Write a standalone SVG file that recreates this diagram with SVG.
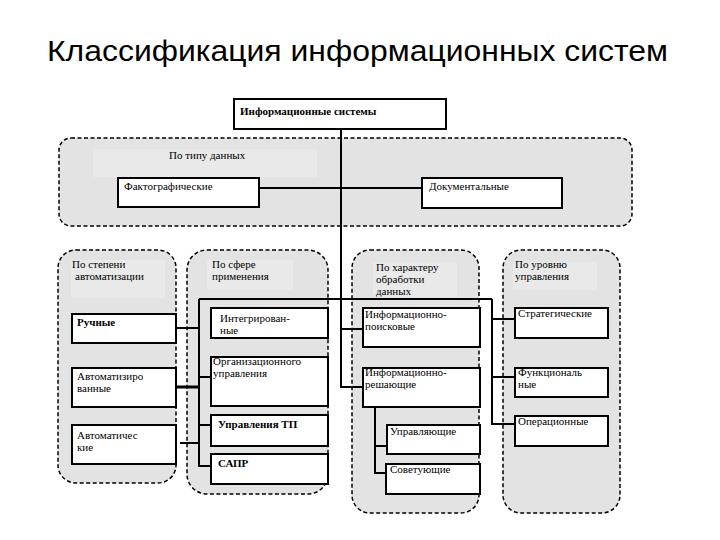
<svg xmlns="http://www.w3.org/2000/svg" width="720" height="540" viewBox="0 0 720 540">
<style>
.grp{fill:#e3e3e3;stroke:#000;stroke-width:1.5;stroke-dasharray:4 2.5}
.band{fill:#e9e9e9;stroke:none}
.box{fill:#fff;stroke:#000;stroke-width:2}
.t{font-family:'Liberation Serif','Times New Roman','DejaVu Serif',serif;font-size:11px;fill:#000}
.b{font-weight:bold}
.c{fill:none;stroke:#000;stroke-width:2}
.c3{fill:none;stroke:#000;stroke-width:3}
</style>
<rect width="720" height="540" fill="#fff"/>
<text x="47" y="61" font-family="'Liberation Sans',Arial,sans-serif" font-size="30" textLength="621" lengthAdjust="spacingAndGlyphs" fill="#000">Классификация информационных систем</text>

<g id="grp-type"><rect class="grp" x="59" y="138" width="573" height="88" rx="12"/><rect class="band" x="93" y="149" width="224" height="28"/><text class="t" x="169" y="159">По типу данных</text></g>
<g id="grp-auto"><rect class="grp" x="58" y="250" width="118" height="233" rx="18"/><rect class="band" x="71" y="260" width="94" height="38"/><text class="t" x="72" y="268">По степени</text><text class="t" x="75" y="280">автоматизации</text></g>
<g id="grp-sphere"><rect class="grp" x="187" y="250" width="141" height="244" rx="20"/><rect class="band" x="207" y="260" width="86" height="30"/><text class="t" x="212" y="268">По сфере</text><text class="t" x="212" y="280">применения</text></g>
<g id="grp-proc"><rect class="grp" x="352" y="250" width="127" height="263" rx="18"/><rect class="band" x="373" y="262" width="84" height="35"/><text class="t" x="376" y="271">По характеру</text><text class="t" x="376" y="283">обработки</text><text class="t" x="376" y="295">данных</text></g>
<g id="grp-level"><rect class="grp" x="503" y="250" width="117" height="263" rx="18"/><rect class="band" x="513" y="262" width="84" height="28"/><text class="t" x="515" y="268">По уровню</text><text class="t" x="515" y="280">управления</text></g>

<g id="connectors">
<path class="c" d="M341 129V387H363"/>
<path class="c" d="M259 188H422"/>
<path class="c" d="M199 299H492"/>
<path class="c" d="M199 299V466H211"/>
<path class="c" d="M199 377H211M199 425H211"/>
<path class="c" d="M176 328H199M180 443H199"/>
<path class="c3" d="M176 387H199"/>
<path class="c" d="M341 329H363"/>
<path class="c" d="M375 407V473H386M375 446H387"/>
<path class="c" d="M492 299V424H515M492 319H515M492 377H515"/>
</g>

<g id="n-is"><rect class="box" x="234" y="99" width="212" height="30"/><text class="t b" x="240" y="115">Информационные системы</text></g>
<g id="n-fact"><rect class="box" x="118" y="178" width="141" height="29"/><text class="t" x="124" y="190">Фактографические</text></g>
<g id="n-doc"><rect class="box" x="422" y="178" width="140" height="30"/><text class="t" x="429" y="190">Документальные</text></g>
<g id="n-manual"><rect class="box" x="72" y="314" width="104" height="29"/><text class="t b" x="77" y="326">Ручные</text></g>
<g id="n-automated"><rect class="box" x="72" y="368" width="104" height="39"/><text class="t" x="77" y="380">Автоматизиро</text><text class="t" x="77" y="392">ванные</text></g>
<g id="n-automatic"><rect class="box" x="72" y="425" width="104" height="39"/><text class="t" x="77" y="439">Автоматичес</text><text class="t" x="77" y="451">кие</text></g>
<g id="n-integr"><rect class="box" x="211" y="308" width="117" height="30"/><text class="t" x="220" y="322">Интегрирован-</text><text class="t" x="220" y="334">ные</text></g>
<g id="n-org"><rect class="box" x="211" y="357" width="117" height="49"/><text class="t" x="213" y="365">Организационного</text><text class="t" x="213" y="377">управления</text></g>
<g id="n-tp"><rect class="box" x="211" y="415" width="117" height="31"/><text class="t b" x="218" y="428">Управления ТП</text></g>
<g id="n-sapr"><rect class="box" x="211" y="454" width="117" height="30"/><text class="t b" x="218" y="467">САПР</text></g>
<g id="n-search"><rect class="box" x="363" y="308" width="117" height="39"/><text class="t" x="365" y="318">Информационно-</text><text class="t" x="365" y="330">поисковые</text></g>
<g id="n-decide"><rect class="box" x="363" y="368" width="117" height="39"/><text class="t" x="365" y="376">Информационно-</text><text class="t" x="365" y="388">решающие</text></g>
<g id="n-control"><rect class="box" x="387" y="425" width="93" height="29"/><text class="t" x="390" y="435">Управляющие</text></g>
<g id="n-advise"><rect class="box" x="386" y="464" width="94" height="30"/><text class="t" x="390" y="473">Советующие</text></g>
<g id="n-strat"><rect class="box" x="515" y="308" width="93" height="30"/><text class="t" x="518" y="317">Стратегические</text></g>
<g id="n-func"><rect class="box" x="515" y="368" width="93" height="29"/><text class="t" x="518" y="376">Функциональ</text><text class="t" x="518" y="388">ные</text></g>
<g id="n-oper"><rect class="box" x="515" y="416" width="93" height="30"/><text class="t" x="518" y="425">Операционные</text></g>
</svg>
